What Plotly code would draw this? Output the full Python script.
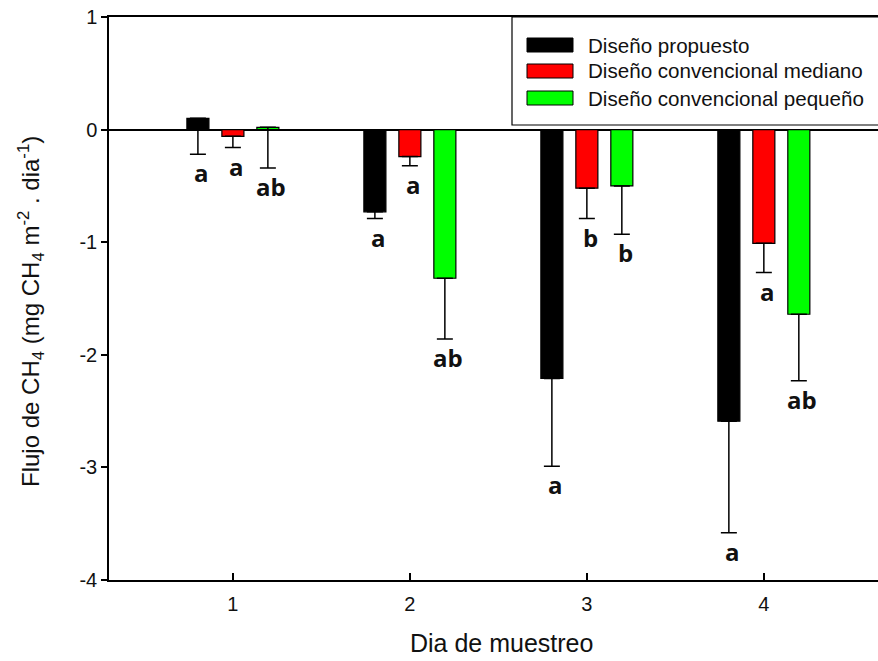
import plotly.graph_objects as go

# ---------------- data ----------------
days = [1, 2, 3, 4]
day_labels = ["1", "2", "3", "4"]
series_names = ["Diseño propuesto", "Diseño convencional mediano", "Diseño convencional pequeño"]
colors = ["#000000", "#ff0000", "#00ff00"]

propuesto = [0.10, -0.73, -2.21, -2.59]
mediano = [-0.06, -0.24, -0.52, -1.01]
pequeno = [0.02, -1.32, -0.50, -1.64]

err_propuesto = [0.32, 0.06, 0.78, 0.99]
err_mediano = [0.10, 0.08, 0.27, 0.26]
err_pequeno = [0.36, 0.54, 0.43, 0.59]

let_propuesto = ["a", "a", "a", "a"]
let_mediano = ["a", "a", "b", "a"]
let_pequeno = ["ab", "ab", "b", "ab"]

y_ticks = [-4, -3, -2, -1, 0, 1]
y_tick_labels = ["-4", "-3", "-2", "-1", "0", "1"]

x_title = "Dia de muestreo"
y_title = "Flujo de CH<sub>4</sub> (mg CH<sub>4</sub> m<sup>-2</sup> . dia<sup>-1</sup>)"

values = [propuesto, mediano, pequeno]
errors = [err_propuesto, err_mediano, err_pequeno]
letters = [let_propuesto, let_mediano, let_pequeno]

# ---------------- layout geometry ----------------
W, H = 878, 661
L, R, T, B = 109, 0, 17, 81
BARGAP = 0.407
BARGROUPGAP = 0.37
n = len(values)
slot = (1 - BARGAP) / n
offsets = [(i - (n - 1) / 2) * slot for i in range(n)]

pw = W - L - R
ph = H - T - B


def px_x(p):
    return (p - L) / pw


def px_y(p):
    return (H - B - p) / ph


fig = go.Figure()
for name, col, v, e in zip(series_names, colors, values, errors):
    fig.add_trace(go.Bar(
        x=days, y=v, name=name,
        marker=dict(color=col, line=dict(color="#000000", width=1.2)),
        error_y=dict(type="data", symmetric=False, array=[0] * len(e), arrayminus=e,
                     color="#000000", thickness=1.5, width=8),
        showlegend=False,
    ))

annotations = []
for off, v, e, lets in zip(offsets, values, errors, letters):
    for d, val, err, lt in zip(days, v, e, lets):
        annotations.append(dict(
            x=d + off + 0.02, y=val - err, xref="x", yref="y", text=lt,
            showarrow=False, yanchor="top", yshift=0,
            font=dict(family="Open Sans", size=24, color="#111111", weight="bold"),
        ))

# manual legend
shapes = [dict(type="rect", xref="paper", yref="paper",
               x0=px_x(512), x1=1.02, y0=px_y(125), y1=px_y(17),
               line=dict(color="#000000", width=1.2), fillcolor="rgba(0,0,0,0)")]
row_centers = [45, 71, 98]
for name, col, yc in zip(series_names, colors, row_centers):
    shapes.append(dict(type="rect", xref="paper", yref="paper",
                       x0=px_x(527), x1=px_x(573), y0=px_y(yc + 7), y1=px_y(yc - 7),
                       line=dict(color="#000000", width=1), fillcolor=col))
    annotations.append(dict(x=px_x(586), y=px_y(yc), xref="paper", yref="paper",
                            text=name, showarrow=False, xanchor="left", yanchor="middle",
                            font=dict(family="Liberation Sans", size=20.6, color="#111111")))

# axis titles
annotations.append(dict(x=px_x(501), y=px_y(659), xref="paper", yref="paper",
                        text=x_title, showarrow=False, xanchor="center", yanchor="bottom",
                        font=dict(family="Liberation Sans", size=25, color="#111111")))
annotations.append(dict(x=px_x(31), y=px_y(312), xref="paper", yref="paper",
                        text=y_title, showarrow=False, textangle=-90,
                        xanchor="center", yanchor="middle",
                        font=dict(family="Liberation Sans", size=24, color="#111111")))

fig.update_layout(
    width=W, height=H,
    margin=dict(l=L, r=R, t=T, b=B, pad=0),
    paper_bgcolor="white", plot_bgcolor="white",
    barmode="group", bargap=BARGAP, bargroupgap=BARGROUPGAP,
    font=dict(family="Liberation Sans", size=20, color="#111111"),
    annotations=annotations, shapes=shapes,
    xaxis=dict(range=[0.3, 4.645], tickvals=days, ticktext=day_labels,
               ticks="inside", ticklen=7, tickwidth=1.5, tickcolor="#000000",
               showline=True, linecolor="#000000", linewidth=1.5, mirror=True,
               showgrid=False, zeroline=False, ticklabelstandoff=5,
               tickfont=dict(family="Liberation Sans", size=20, color="#111111")),
    yaxis=dict(range=[-4, 1], tickvals=y_ticks, ticktext=y_tick_labels,
               ticks="outside", ticklen=6, tickwidth=1.5,
               tickcolor="#000000", showline=True, linecolor="#000000", linewidth=1.5,
               mirror=False, showgrid=False, zeroline=True, zerolinecolor="#000000",
               zerolinewidth=1.5,
               tickfont=dict(family="Liberation Sans", size=20, color="#111111")),
)

fig.write_html("out.html")
